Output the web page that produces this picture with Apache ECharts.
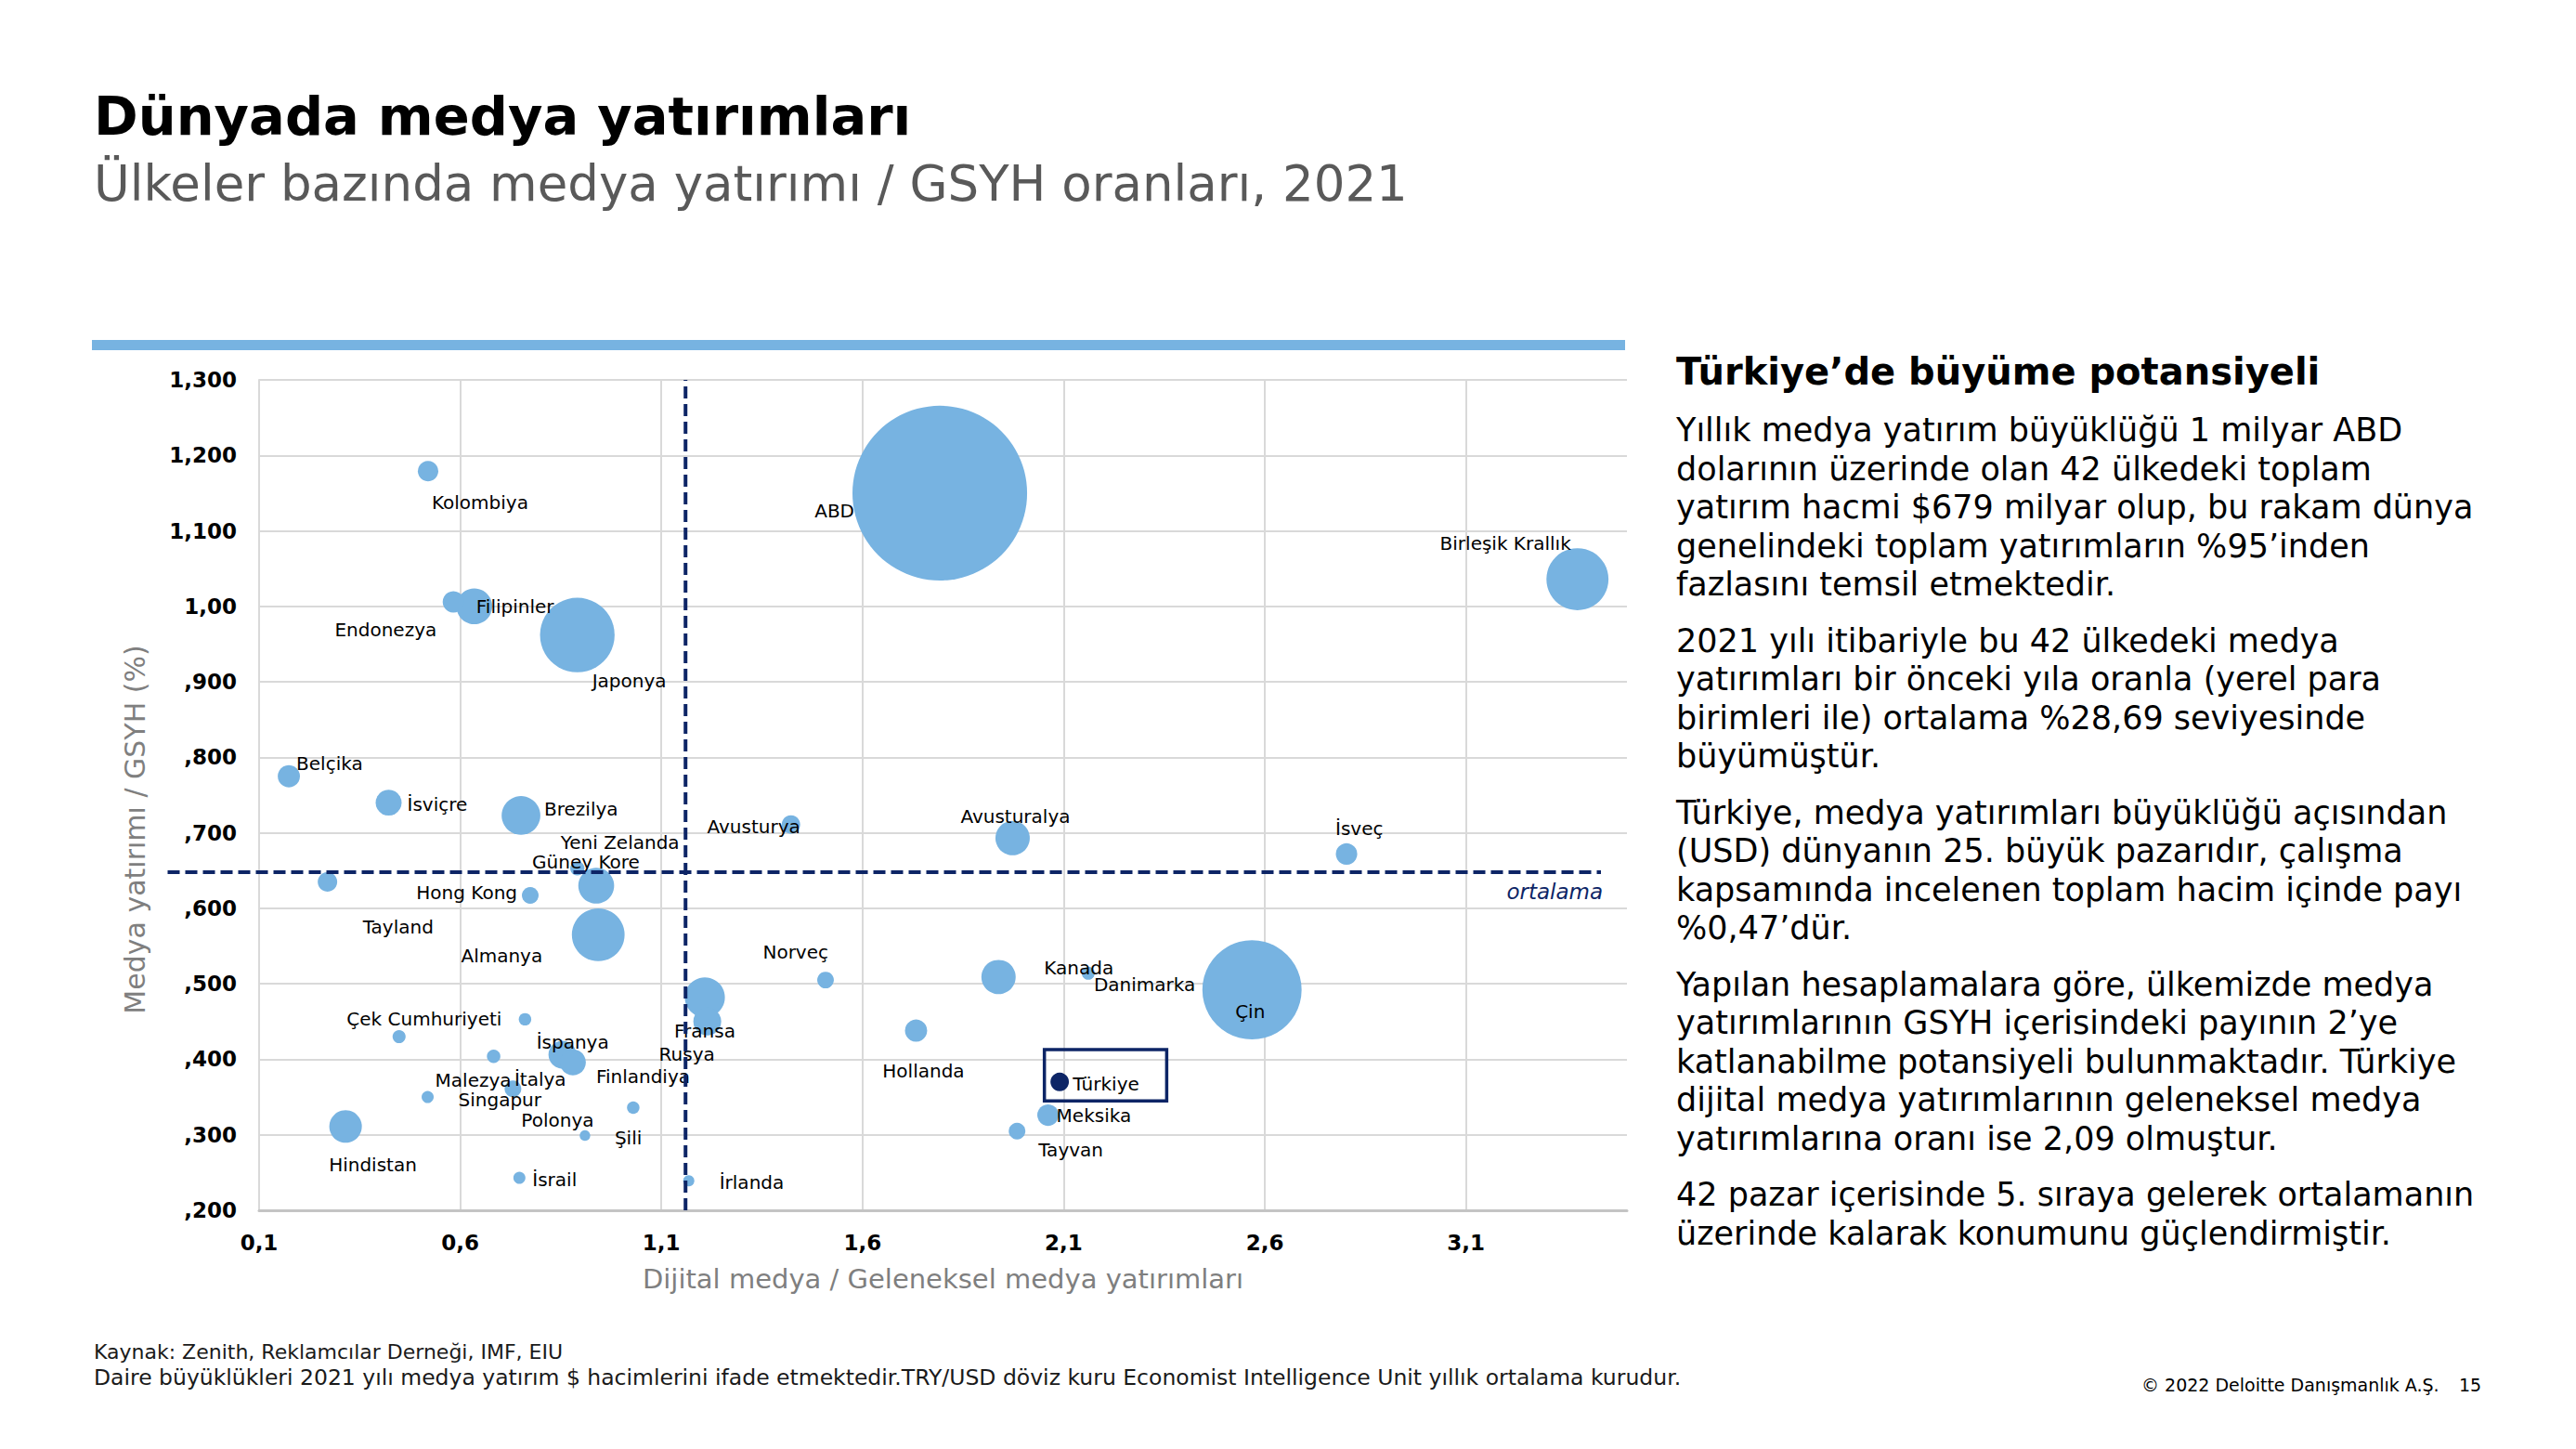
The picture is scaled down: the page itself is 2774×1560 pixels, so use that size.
<!DOCTYPE html>
<html>
<head>
<meta charset="utf-8">
<script src="https://cdn.jsdelivr.net/npm/echarts/dist/echarts.min.js"></script>
<style>
html,body{margin:0;padding:0;background:#ffffff;}
#chart{width:2774px;height:1560px;}
</style>
</head>
<body>
<div id="chart"></div>
<script>
// ---------------- DATA ----------------
const countries = ['ABD','Çin','Japonya','Birleşik Krallık','Almanya','Fransa','Brezilya','Filipinler','Güney Kore','Kanada',
  'Avusturalya','Hindistan','İspanya','İtalya','Rusya','İsviçre','Hollanda','Belçika','Endonezya','İsveç',
  'Meksika','Kolombiya','Tayland','Avusturya','Türkiye','Tayvan','Norveç','Hong Kong','Polonya','Yeni Zelanda',
  'Malezya','Danimarka','Çek Cumhuriyeti','','Finlandiya','Singapur','İsrail','İrlanda','Şili'];
// Dijital medya / Geleneksel medya yatırımları
const digitalRatio = [1.792,2.568,0.891,3.377,0.943,1.208,0.751,0.635,0.938,1.938,
  1.973,0.315,0.854,0.880,1.214,0.422,1.733,0.174,0.583,2.803,
  2.061,0.520,0.270,1.422,2.09,1.984,1.508,0.774,0.731,0.891,
  0.683,2.161,0.761,0.448,1.030,0.519,0.747,1.168,0.910];
// Medya yatırımı / GSYH (%)
const adGdpRatio = [1.150,0.492,0.962,1.036,0.565,0.482,0.723,1.000,0.630,0.509,
  0.693,0.311,0.406,0.396,0.450,0.740,0.438,0.775,1.006,0.672,
  0.326,1.179,0.635,0.711,0.370,0.305,0.505,0.617,0.361,0.653,
  0.404,0.514,0.453,0.430,0.336,0.350,0.243,0.239,0.299];
// 2021 medya yatırım hacmi (milyar $) – bubble size
const investment = [285,92,52,36,26,15,14,12,12,11,
  11,9.9,7.3,6.3,7.3,6.3,4.6,4.6,4.3,4.3,
  4.3,3.9,3.55,3.2,3.2,2.6,2.6,2.6,2.6,1.9,
  1.7,1.6,1.45,1.6,1.45,1.36,1.36,1.16,1.05];
const highlightCountry = 'Türkiye';
const avgDigital = 1.16;   // ortalama (x)
const avgAdGdp = 0.648;    // ortalama (y)
const xTickLabels = ['0,1','0,6','1,1','1,6','2,1','2,6','3,1'];
const yTickLabels = [',200',',300',',400',',500',',600',',700',',800',',900','1,00','1,100','1,200','1,300'];
const turkeyBox = [[2.052, 0.413], [2.356, 0.345]];

// ---------------- LAYOUT / STYLE ----------------
const labelLayout = {
  'Kolombiya':['left',4,34], 'ABD':['right',-92,19], 'Birleşik Krallık':['right',-7,-39],
  'Endonezya':['right',-18,30], 'Filipinler':['left',2,0], 'Japonya':['left',16,49],
  'Belçika':['left',8,-14], 'İsviçre':['left',20,2], 'Brezilya':['left',25,-7],
  'Avusturya':['right',10,2], 'Yeni Zelanda':['left',-18,-28], 'Güney Kore':['left',-69,-26],
  'Tayland':['left',38,49], 'Hong Kong':['right',-14,-3], 'Almanya':['right',-60,23],
  'Norveç':['right',3,-30], 'Fransa':['left',-33,36], 'Rusya':['left',-52,35],
  'Çek Cumhuriyeti':['right',-25,0], 'İspanya':['left',-28,-14], 'İtalya':['left',-63,18],
  'Malezya':['right',19,26], 'Singapur':['left',33,3], 'Polonya':['left',9,34],
  'Finlandiya':['left',-40,-33], 'Şili':['left',32,2], 'Hindistan':['left',-18,41],
  'İsrail':['left',14,2], 'İrlanda':['left',33,2], 'Kanada':['left',49,-10],
  'Danimarka':['left',6,12], 'Çin':['center',-2,23], 'Hollanda':['center',8,43],
  'Türkiye':['left',14,2], 'Meksika':['left',9,0], 'Tayvan':['left',23,20],
  'Avusturalya':['center',3,-23], 'İsveç':['left',-12,-27]
};
const FONT = 'DejaVu Sans';
const BUBBLE = '#77B3E1';
const NAVY = '#0D2566';
const RADIUS_PER_SQRT = 5.57;

function makeItem(i) {
  const name = countries[i];
  const lay = labelLayout[name];
  return {
    name: name,
    value: [digitalRatio[i], adGdpRatio[i], investment[i]],
    label: lay ? {
      show: true, position: 'inside', align: lay[0], verticalAlign: 'middle',
      offset: [lay[1], lay[2]], color: '#000', fontSize: 20, fontFamily: FONT,
      textBorderWidth: 0, formatter: '{b}'
    } : { show: false }
  };
}
const mainData = [], hiData = [];
countries.forEach((c, i) => { (c === highlightCountry ? hiData : mainData).push(makeItem(i)); });

const paragraphs = [
  ['Yıllık medya yatırım büyüklüğü 1 milyar ABD','dolarının üzerinde olan 42 ülkedeki toplam','yatırım hacmi $679 milyar olup, bu rakam dünya','genelindeki toplam yatırımların %95’inden','fazlasını temsil etmektedir.'],
  ['2021 yılı itibariyle bu 42 ülkedeki medya','yatırımları bir önceki yıla oranla (yerel para','birimleri ile) ortalama %28,69 seviyesinde','büyümüştür.'],
  ['Türkiye, medya yatırımları büyüklüğü açısından','(USD) dünyanın 25. büyük pazarıdır, çalışma','kapsamında incelenen toplam hacim içinde payı','%0,47’dür.'],
  ['Yapılan hesaplamalara göre, ülkemizde medya','yatırımlarının GSYH içerisindeki payının 2’ye','katlanabilme potansiyeli bulunmaktadır. Türkiye','dijital medya yatırımlarının geleneksel medya','yatırımlarına oranı ise 2,09 olmuştur.'],
  ['42 pazar içerisinde 5. sıraya gelerek ortalamanın','üzerinde kalarak konumunu güçlendirmiştir.']
];
const LINE_H = 41.6, PARA_GAP = 18.6, TEXT_X = 1805;
function txt(x, y, text, size, extra) {
  return {type:'text', x:x, y:y, style:Object.assign({text:text, fontSize:size, fontFamily:FONT, fill:'#000',
    align:'left', verticalAlign:'middle', textAlign:'left', textVerticalAlign:'middle'}, extra || {})};
}
const graphics = [
  txt(101, 125, 'Dünyada medya yatırımları', 57.5, {fontWeight:'bold'}),
  txt(101, 197, 'Ülkeler bazında medya yatırımı / GSYH oranları, 2021', 53, {fill:'#595959'}),
  {type:'rect', shape:{x:99, y:366, width:1651, height:11}, style:{fill:BUBBLE}},
  txt(TEXT_X, 400, 'Türkiye’de büyüme potansiyeli', 40, {fontWeight:'bold'}),
  txt(101, 1455, 'Kaynak: Zenith, Reklamcılar Derneği, IMF, EIU', 22, {fill:'#1a1a1a'}),
  txt(101, 1483, 'Daire büyüklükleri 2021 yılı medya yatırım $ hacimlerini ifade etmektedir.TRY/USD döviz kuru Economist Intelligence Unit yıllık ortalama kurudur.', 23.5, {fill:'#1a1a1a'}),
  txt(2306, 1491, '© 2022 Deloitte Danışmanlık A.Ş.', 19),
  txt(2648, 1491, '15', 19)
];
let py = 463;
paragraphs.forEach(lines => {
  lines.forEach((ln, k) => { graphics.push(txt(TEXT_X, py + k*LINE_H, ln, 35)); });
  py += lines.length*LINE_H + PARA_GAP;
});

const chart = echarts.init(document.getElementById('chart'), null, {renderer:'svg', width:2774, height:1560});
const option = {
  backgroundColor: '#ffffff',
  animation: false,
  graphic: graphics,
  grid: [
    {left:279, right:1022, top:409, bottom:257, containLabel:false, outerBoundsMode:'none'},
    {left:180.5, right:1050, top:409, bottom:257, containLabel:false, outerBoundsMode:'none'}
  ],
  xAxis: [
    {
      type:'value', gridIndex:0, min:0.1, max:3.5, interval:0.5,
      name:'Dijital medya / Geleneksel medya yatırımları', nameLocation:'middle', nameGap:59,
      nameTextStyle:{fontSize:29, color:'#7F7F7F', fontFamily:FONT},
      axisLine:{show:true, onZero:false, lineStyle:{color:'#C4C4C4', width:3}},
      axisTick:{show:false},
      axisLabel:{fontSize:23, fontWeight:'bold', color:'#000', fontFamily:FONT, margin:23, showMaxLabel:false,
        formatter:(v, i) => (xTickLabels[i] !== undefined ? xTickLabels[i] : '')},
      splitLine:{show:true, showMinLine:false, showMaxLine:false, lineStyle:{color:'#D9D9D9', width:2}}
    },
    {type:'value', gridIndex:1, min:0, max:1, show:false}
  ],
  yAxis: [
    {
      type:'value', gridIndex:0, min:0.2, max:1.3, interval:0.1,
      name:'Medya yatırımı / GSYH (%)', nameLocation:'middle', nameGap:119,
      nameTextStyle:{fontSize:30, color:'#7F7F7F', fontFamily:FONT, padding:[0,74,0,0]},
      axisLine:{show:true, onZero:false, lineStyle:{color:'#D9D9D9', width:2}},
      axisTick:{show:false},
      axisLabel:{fontSize:23, fontWeight:'bold', color:'#000', fontFamily:FONT, margin:24,
        formatter:(v, i) => (yTickLabels[i] !== undefined ? yTickLabels[i] : '')},
      splitLine:{show:true, showMinLine:false, lineStyle:{color:'#D9D9D9', width:2}}
    },
    {type:'value', gridIndex:1, min:0.2, max:1.3, show:false}
  ],
  series: [
    {
      type:'scatter', name:'Ülkeler', xAxisIndex:0, yAxisIndex:0, data: mainData,
      symbolSize: v => 2*RADIUS_PER_SQRT*Math.sqrt(v[2]),
      itemStyle:{color:BUBBLE, opacity:1}, silent:true, z:2,
      emphasis:{disabled:true}
    },
    {
      type:'scatter', name:highlightCountry, xAxisIndex:0, yAxisIndex:0, data: hiData,
      symbolSize: v => 2*RADIUS_PER_SQRT*Math.sqrt(v[2]),
      itemStyle:{color:NAVY, opacity:1}, silent:true, z:3,
      emphasis:{disabled:true},
      markArea:{silent:true, itemStyle:{color:'rgba(0,0,0,0)', borderColor:NAVY, borderWidth:3.5},
        data:[[{coord:turkeyBox[0]}, {coord:turkeyBox[1]}]]}
    },
    {
      type:'line', name:'ortalama-x', xAxisIndex:0, yAxisIndex:0,
      data:[[avgDigital, 0.2],[avgDigital, 1.3]], symbol:'none', silent:true, z:10,
      lineStyle:{color:NAVY, width:4, type:[13,6]}
    },
    {
      type:'line', name:'ortalama-y', xAxisIndex:1, yAxisIndex:1,
      data:[[0, avgAdGdp],[1, avgAdGdp]], symbol:'none', silent:true, z:10,
      lineStyle:{color:NAVY, width:4, type:[13,6]},
      endLabel:{show:true, formatter:'ortalama', color:NAVY, fontStyle:'italic', fontSize:23, fontFamily:FONT,
        align:'right', verticalAlign:'middle', distance:0, offset:[2,21]}
    }
  ]
};
chart.setOption(option);
</script>
</body>
</html>
